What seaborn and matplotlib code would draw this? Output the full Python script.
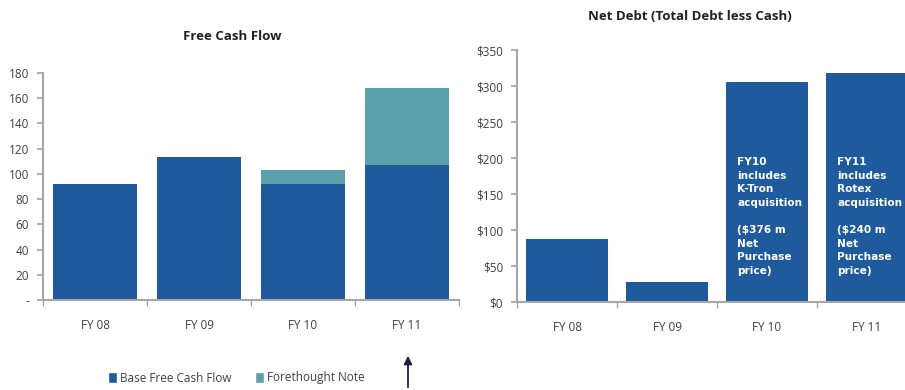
import matplotlib
matplotlib.use("Agg")
import matplotlib.pyplot as plt
from matplotlib.patches import Patch, FancyArrowPatch
import seaborn as sns
import pandas as pd

# Data
years = ["FY 08", "FY 09", "FY 10", "FY 11"]
base_fcf = [92, 113, 92, 107]
forethought_note = [0, 0, 11, 61]
net_debt = [87, 28, 305, 318]

fcf_ticks = [0, 20, 40, 60, 80, 100, 120, 140, 160, 180]
fcf_ticklabels = ["-", "20", "40", "60", "80", "100", "120", "140", "160", "180"]
debt_ticks = [0, 50, 100, 150, 200, 250, 300, 350]
debt_ticklabels = ["$0", "$50", "$100", "$150", "$200", "$250", "$300", "$350"]

notes = {
    "FY 10": "FY10\nincludes\nK-Tron\nacquisition\n\n($376 m\nNet\nPurchase\nprice)",
    "FY 11": "FY11\nincludes\nRotex\nacquisition\n\n($240 m\nNet\nPurchase\nprice)",
}

BLUE = "#1F5B9C"
TEAL = "#5AA1AB"
SPINE = "#A6A6A6"
TEXT = "#404040"

sns.set_theme(style="white")
plt.rcParams["font.family"] = ["Open Sans", "DejaVu Sans"]

fig = plt.figure(figsize=(9.05, 3.9), dpi=100)
ax1 = fig.add_axes([43 / 905, 90 / 390, 416 / 905, 227 / 390])
ax2 = fig.add_axes([517 / 905, 88 / 390, 400 / 905, 252 / 390])

df = pd.DataFrame({
    "year": years,
    "base": base_fcf,
    "note": forethought_note,
    "debt": net_debt,
})
df["total"] = df["base"] + df["note"]

# Stacked free cash flow: total first, base drawn on top
sns.barplot(data=df, x="year", y="total", color=TEAL, width=0.8,
            saturation=1, linewidth=0, ax=ax1)
sns.barplot(data=df, x="year", y="base", color=BLUE, width=0.8,
            saturation=1, linewidth=0, ax=ax1)

sns.barplot(data=df, x="year", y="debt", color=BLUE, width=0.82,
            saturation=1, linewidth=0, ax=ax2)

for ax, ticks, labels, ymax in [
    (ax1, fcf_ticks, fcf_ticklabels, 180),
    (ax2, debt_ticks, debt_ticklabels, 350),
]:
    ax.set_xlim(-0.5, 3.5)
    ax.set_ylim(0, ymax)
    ax.set_yticks(ticks)
    ax.set_yticklabels(labels, fontsize=8.5, color=TEXT)
    ax.set_xlabel("")
    ax.set_ylabel("")
    ax.set_xticks(range(len(years)))
    ax.set_xticklabels(years, fontsize=8.5, color=TEXT)
    ax.tick_params(axis="x", length=0, pad=14)
    ax.set_xticks([-0.5, 0.5, 1.5, 2.5, 3.5], minor=True)
    ax.tick_params(axis="x", which="minor", length=4, color=SPINE,
                   direction="out", bottom=True)
    ax.tick_params(axis="y", length=4, color=SPINE, direction="out",
                   left=True, pad=6)
    for side in ["top", "right"]:
        ax.spines[side].set_visible(False)
    for side in ["left", "bottom"]:
        ax.spines[side].set_color(SPINE)
        ax.spines[side].set_linewidth(1.5)

fig.text(232 / 905, 1 - 37 / 390, "Free Cash Flow", ha="center", va="center",
         fontsize=9.5, fontweight="bold", color="#222222")
fig.text(690 / 905, 1 - 16 / 390, "Net Debt (Total Debt less Cash)",
         ha="center", va="center", fontsize=9.5, fontweight="bold",
         color="#222222")

# Acquisition notes inside the net debt bars
for i, yr in enumerate(years):
    if yr in notes:
        ax2.text(i - 0.3, 201, notes[yr], ha="left", va="top",
                 fontsize=7.6, fontweight="bold", color="white",
                 family="DejaVu Sans", linespacing=1.45)

handles = [Patch(facecolor=BLUE, label="Base Free Cash Flow"),
           Patch(facecolor=TEAL, label="Forethought Note")]
fig.legend(handles=handles, loc="center", ncol=2, frameon=False,
           bbox_to_anchor=(236 / 905, 1 - 378 / 390), fontsize=8.5,
           handlelength=0.8, handleheight=1.1, handletextpad=0.2,
           columnspacing=2.0, labelcolor=TEXT)

# Arrow pointing up at FY 11
fig.add_artist(FancyArrowPatch(
    (408 / 905, 0.0), (408 / 905, 1 - 353 / 390),
    transform=fig.transFigure, arrowstyle="-|>", mutation_scale=12,
    color="#1B1F4A", linewidth=1.3))

fig.savefig("out.png", dpi=100)
